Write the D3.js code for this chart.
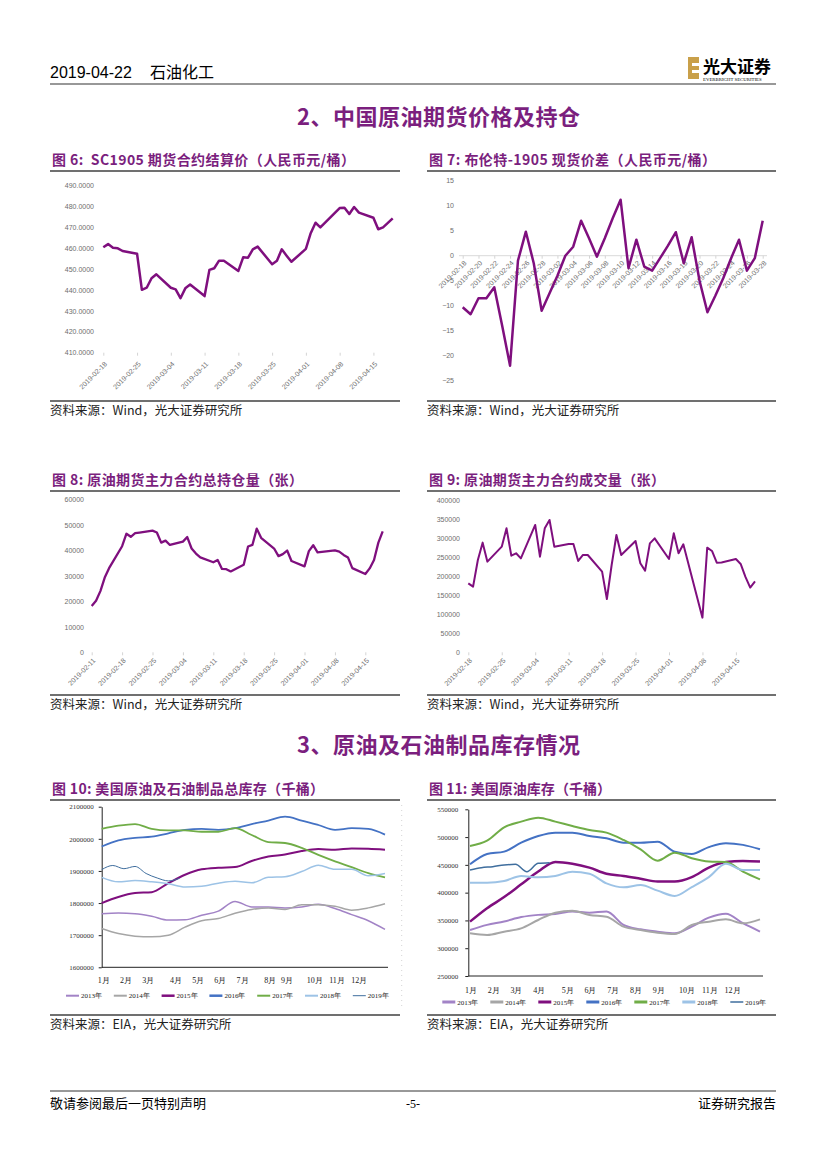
<!DOCTYPE html>
<html>
<head>
<meta charset="utf-8">
<script src="https://cdn.jsdelivr.net/npm/d3@7"></script>
<style>
  body { margin: 0; background: #fff; }
</style>
</head>
<body>
<script>
// ---------- data ----------
// trading days shared by fig 6 and fig 9
const tradeDates = ["2019-02-18","2019-02-19","2019-02-20","2019-02-21","2019-02-22",
  "2019-02-25","2019-02-26","2019-02-27","2019-02-28","2019-03-01",
  "2019-03-04","2019-03-05","2019-03-06","2019-03-07","2019-03-08",
  "2019-03-11","2019-03-12","2019-03-13","2019-03-14","2019-03-15",
  "2019-03-18","2019-03-19","2019-03-20","2019-03-21","2019-03-22",
  "2019-03-25","2019-03-26","2019-03-27","2019-03-28","2019-03-29",
  "2019-04-01","2019-04-02","2019-04-03","2019-04-04",
  "2019-04-08","2019-04-09","2019-04-10","2019-04-11","2019-04-12",
  "2019-04-15","2019-04-16","2019-04-17","2019-04-18","2019-04-19"];
const holdDates = ["2019-02-11","2019-02-12","2019-02-13","2019-02-14","2019-02-15"].concat(tradeDates);

// fig 6: SC1905 settlement price
const sc1905Price = [460.3,461.8,460.1,459.8,458.5, 457.2,440.0,441.0,445.5,447.4,
  441.0,440.2,436.0,440.7,442.5, 437.0,449.5,450.3,453.9,453.9,
  449.0,455.5,455.3,459.3,460.6, 452.2,453.9,459.3,456.3,453.4,
  459.5,467.0,472.0,469.8, 479.0,479.2,476.2,479.5,476.8,
  474.4,468.9,469.8,471.9,474.1];
const priceTicks = [410,420,430,440,450,460,470,480,490];
const priceDateTicks = ["2019-02-18","2019-02-25","2019-03-04","2019-03-11","2019-03-18",
  "2019-03-25","2019-04-01","2019-04-08","2019-04-15"];

// fig 7: Brent-1905 spread
const spreadLabels = ["2019-02-18","2019-02-20","2019-02-22","2019-02-24","2019-02-26",
  "2019-02-28","2019-03-02","2019-03-04","2019-03-06","2019-03-08","2019-03-10",
  "2019-03-12","2019-03-14","2019-03-16","2019-03-18","2019-03-20","2019-03-22",
  "2019-03-24","2019-03-26","2019-03-28"];
const spreadValues = [-10.3,-11.7,-8.5,-8.5,-6.3,-14,-22,-1,4.8,-1.5,-11,-7.5,-4,0,1.8,7,3.5,
  -0.2,3.5,7.5,11.2,-2.5,3.2,-2.2,-3,-0.5,2,4.7,-1.5,3.7,-5,-11.3,-8,-4.5,-0.5,3.2,-3,-0.5,7];
const spreadTicks = [15,10,5,0,-5,-10,-15,-20,-25];

// fig 8: open interest
const openInterest = [18170,20200,24000,29300,33000,
  41600,46500,45300,46700,46930, 47700,47000,43000,43800,42100,
  43400,45200,40700,38700,37200, 35300,36200,32700,32600,31700,
  34300,41500,42100,48500,44900, 40700,37700,38500,39900,35800,
  33700,39700,42000,39200, 40000,39500,38200,37200,33000,
  30700,32900,36200,43000,47400];
const oiTicks = [0,10000,20000,30000,40000,50000,60000];
const oiDateTicks = ["2019-02-11","2019-02-18","2019-02-25","2019-03-04","2019-03-11",
  "2019-03-18","2019-03-25","2019-04-01","2019-04-08","2019-04-15"];

// fig 9: volume
const volume = [181200,172400,242500,288000,238100, 277500,325600,253800,260000,246800,
  334400,251200,325600,347500,277500, 284500,284500,239800,255600,255600,
  211800,140000,229300,308100,255600, 292300,233700,214400,286200,299300,
  245100,312500,260000,283600, 91000,274800,266100,235400,236000,
  245000,232000,198000,170000,186000];
const volTicks = [0,50000,100000,150000,200000,250000,300000,350000,400000];

// fig 10 / 11: weekly US inventories (values in thousands of the axis unit)
const years = ["2013年","2014年","2015年","2016年","2017年","2018年","2019年"];
const yearColors = ["#a283c6","#a6a6a6","#7f0f7e","#4472c4","#70ad47","#9dc3e6","#3f6e9e"];
const months = ["1月","2月","3月","4月","5月","6月","7月","8月","9月","10月","11月","12月"];
const weeks = [0,3,6,9,12,15,18,21,24,27,30,33,36,39,42,45,48,51];
const weeks2019 = [0,2,4,6,8,10,12,14];

const total2013 = [1767,1769,1767,1759,1747,1748,1762,1775,1805,1788,1788,1785,1788,1796,1783,1764,1745,1718];
const total2014 = [1721,1705,1697,1695,1700,1725,1745,1752,1768,1780,1785,1780,1795,1795,1790,1778,1785,1798];
const total2015 = [1800,1819,1831,1834,1862,1888,1905,1910,1912,1931,1945,1951,1962,1968,1966,1970,1969,1966];
const total2016 = [1976,1995,2003,2007,2017,2028,2031,2028,2033,2046,2057,2069,2057,2043,2028,2033,2031,2013];
const total2017 = [2031,2041,2046,2031,2026,2026,2022,2022,2033,2012,1990,1987,1972,1950,1930,1912,1893,1880];
const total2018 = [1880,1866,1870,1866,1860,1850,1852,1862,1868,1863,1880,1882,1898,1918,1905,1905,1885,1892];
const total2019 = [1904,1917,1907,1914,1892,1878,1869,1877];
const totalTicks = [1600,1700,1800,1900,2000,2100];
const totalMonthWeeks = [0,4,8,13,17,21,25,30,33,38,42,46];

const crude2013 = [332.8,342,348,356,360,361.6,366,364,366,342,334,329.8,326.8,338.8,355,362,345,330];
const crude2014 = [326.8,323.8,329.8,335.8,350.8,364,367.6,359.8,356.8,338.8,332.8,328,325.6,341.8,347.8,352,344.8,352];
const crude2015 = [347.8,372,392,415,438,455,452,445,434,430,425,420,420,428,445,455,457,456];
const crude2016 = [451,469.6,473.8,490,502,508,508,502,497.8,490,490,491.8,473.8,469.6,482,489,486,478];
const crude2017 = [484,493.6,517.6,527.8,535,527.8,520,512.8,508,494.8,478,457.6,472,462,456,455,438,424];
const crude2018 = [418,418,421,430,427.6,430,437.8,434,416.8,409.6,413.8,403.6,394,410,428,452,440.8,440.8];
const crude2019 = [440.8,445,446.8,449.8,451,437.8,452.8,454];
const crudeTicks = [250,300,350,400,450,500,550];
const crudeMonthWeeks = [0,4,8,12,17,21,25,29,33,38,42,46];

// ---------- page ----------
const W = 827, H = 1169;
const CJK = "'Noto Sans CJK SC', 'Noto Sans', sans-serif";
const SANS = "'Liberation Sans', Arial, sans-serif";
const SERIF = "'Liberation Serif', 'Times New Roman', serif";
const PURPLE = "#7f0f7e";
const TITLE = "#7b1f7e";
const LABEL = "#6e6e6e";
const parseDay = d3.timeParse("%Y-%m-%d");
const fmtDay = d3.timeFormat("%Y-%m-%d");

let svg = d3.select("body").append("svg")
    .attr("width", W)
    .attr("height", H)
    .style("background", "#fff");

function text(x, y, str, size, opts = {}) {
    let t = svg.append("text")
        .attr("x", x).attr("y", y)
        .attr("font-family", opts.family || CJK)
        .attr("font-size", size)
        .attr("font-weight", opts.weight || "normal")
        .attr("fill", opts.fill || "#000")
        .attr("text-anchor", opts.anchor || "start")
        .attr("xml:space", "preserve")
        .text(str);
    if (opts.length) t.attr("textLength", opts.length).attr("lengthAdjust", "spacing");
    return t;
}
function hline(x1, x2, y, w, color) {
    svg.append("line").attr("x1", x1).attr("x2", x2).attr("y1", y).attr("y2", y)
        .attr("stroke", color || "#404040").attr("stroke-width", w);
}

// header
text(50, 78, "2019-04-22", 16, {family: SANS});
text(150, 78, "石油化工", 16);
hline(50, 776, 84, 1.2, "#333");

// logo
const logo = svg.append("g").attr("transform", "translate(688,57)");
logo.append("rect").attr("x", 0).attr("y", 0).attr("width", 11).attr("height", 22).attr("fill", "#c9a04a");
logo.append("rect").attr("x", 4).attr("y", 6).attr("width", 7).attr("height", 3).attr("fill", "#fff");
logo.append("rect").attr("x", 4).attr("y", 13).attr("width", 7).attr("height", 3).attr("fill", "#fff");
text(703, 73, "光大证券", 17, {weight: "bold"});
text(703, 81, "EVERBRIGHT SECURITIES", 4.8, {family: SERIF});

// section titles
text(297, 125, "2、中国原油期货价格及持仓", 22, {weight: "bold", fill: TITLE, length: 283});
text(297, 753, "3、原油及石油制品库存情况", 22, {weight: "bold", fill: TITLE, length: 283});

// figure titles, rules and sources
const leftX = 50, rightX = 427, leftEnd = 400, rightEnd = 776;
function frame(x, x2, titleY, title, titleLen, sepY, source) {
    text(x + 2, titleY, title, 14, {weight: "bold", fill: TITLE, length: titleLen});
    hline(x, x2, titleY + 6, 1.5);
    hline(x, x2, sepY, 1.5);
    text(x, sepY + 13.5, source, 12.5, {fill: "#222"});
}
frame(leftX, leftEnd, 165, "图 6:  SC1905 期货合约结算价（人民币元/桶）", 303, 401, "资料来源：Wind，光大证券研究所");
frame(rightX, rightEnd, 165, "图 7: 布伦特-1905 现货价差（人民币元/桶）", 287, 401, "资料来源：Wind，光大证券研究所");
frame(leftX, leftEnd, 485, "图 8: 原油期货主力合约总持仓量（张）", 251, 695, "资料来源：Wind，光大证券研究所");
frame(rightX, rightEnd, 485, "图 9: 原油期货主力合约成交量（张）", 236, 695, "资料来源：Wind，光大证券研究所");
frame(leftX, leftEnd, 794, "图 10: 美国原油及石油制品总库存（千桶）", 272, 1015, "资料来源：EIA，光大证券研究所");
frame(rightX, rightEnd, 794, "图 11: 美国原油库存（千桶）", 182, 1015, "资料来源：EIA，光大证券研究所");

// footer
hline(50, 776, 1091, 1, "#333");
text(50, 1108, "敬请参阅最后一页特别声明", 13);
text(413, 1108, "-5-", 12, {family: SERIF, anchor: "middle"});
text(776, 1108, "证券研究报告", 13, {anchor: "end"});

// ---------- daily charts (fig 6, 8, 9) ----------
function dailyChart(o) {
    const dates = o.dates.map(parseDay);
    const x = d3.scaleTime().domain(d3.extent(dates)).range([o.x0, o.x1]);
    const y = d3.scaleLinear().domain(o.yDomain).range([o.yBot, o.yTop]);

    let yAxis = svg.append("g")
        .attr("transform", `translate(${o.labelX},0)`)
        .call(d3.axisLeft(y).tickValues(o.yTicks).tickFormat(o.yFormat).tickSize(0).tickPadding(0));
    yAxis.select(".domain").remove();
    yAxis.selectAll("text").attr("font-family", SANS).attr("font-size", 7).attr("fill", LABEL);

    let xAxis = svg.append("g")
        .attr("transform", `translate(0,${o.yBot})`)
        .call(d3.axisBottom(x).tickValues(o.xTicks.map(parseDay)).tickFormat(fmtDay).tickSize(3));
    xAxis.select(".domain").remove();
    xAxis.selectAll("line").attr("stroke", "#d4d4d4");
    xAxis.selectAll("text")
        .attr("font-family", SANS).attr("font-size", 7).attr("fill", LABEL)
        .attr("text-anchor", "end").attr("y", 0).attr("dy", "0.35em")
        .attr("transform", `translate(2,${o.labelDrop}) rotate(-45)`);

    svg.append("path")
        .datum(o.values)
        .attr("fill", "none")
        .attr("stroke", PURPLE)
        .attr("stroke-width", o.lineWidth)
        .attr("stroke-linejoin", "round")
        .attr("d", d3.line().x((d, i) => x(dates[i])).y(d => y(d)));
}

dailyChart({dates: tradeDates, values: sc1905Price, x0: 103.3, x1: 392.7, yTop: 185, yBot: 352.7,
    yDomain: [410, 490], yTicks: priceTicks, yFormat: d3.format(".4f"), labelX: 94,
    xTicks: priceDateTicks, labelDrop: 10, lineWidth: 2.5});

dailyChart({dates: holdDates, values: openInterest, x0: 91.7, x1: 382.7, yTop: 499.3, yBot: 652.3,
    yDomain: [0, 60000], yTicks: oiTicks, yFormat: d3.format("d"), labelX: 84,
    xTicks: oiDateTicks, labelDrop: 7, lineWidth: 2.3});

dailyChart({dates: tradeDates, values: volume, x0: 468.3, x1: 755, yTop: 500, yBot: 652.3,
    yDomain: [0, 400000], yTicks: volTicks, yFormat: d3.format("d"), labelX: 460,
    xTicks: priceDateTicks, labelDrop: 7, lineWidth: 2});

// ---------- fig 7: spread ----------
{
    const x = d3.scaleLinear().domain([0, spreadValues.length - 1]).range([462.7, 762.7]);
    const y = d3.scaleLinear().domain([-25, 15]).range([380.7, 180.7]);

    let yAxis = svg.append("g")
        .attr("transform", "translate(454,0)")
        .call(d3.axisLeft(y).tickValues(spreadTicks).tickFormat(d3.format("d")).tickSize(0).tickPadding(0));
    yAxis.select(".domain").remove();
    yAxis.selectAll("text").attr("font-family", SANS).attr("font-size", 7).attr("fill", LABEL);

    svg.append("line").attr("x1", 459).attr("x2", 767).attr("y1", y(0)).attr("y2", y(0))
        .attr("stroke", "#d9d9d9").attr("stroke-width", 1);

    let xAxis = svg.append("g")
        .attr("transform", `translate(0,${y(0)})`)
        .call(d3.axisBottom(x).tickValues(d3.range(0, spreadValues.length, 2))
            .tickFormat(i => spreadLabels[i / 2]).tickSize(3));
    xAxis.select(".domain").remove();
    xAxis.selectAll("line").attr("stroke", "#d4d4d4");
    xAxis.selectAll("text")
        .attr("font-family", SANS).attr("font-size", 7).attr("fill", LABEL)
        .attr("text-anchor", "end").attr("y", 0).attr("dy", "0.35em")
        .attr("transform", "translate(2,6) rotate(-45)");

    svg.append("path")
        .datum(spreadValues)
        .attr("fill", "none")
        .attr("stroke", PURPLE)
        .attr("stroke-width", 2.5)
        .attr("stroke-linejoin", "round")
        .attr("d", d3.line().x((d, i) => x(i)).y(d => y(d)));
}

// ---------- weekly inventory charts (fig 10, 11) ----------
function weeklyChart(o) {
    const x = d3.scaleLinear().domain([0, 51]).range([o.x0, o.x1]);
    const y = d3.scaleLinear().domain(o.yDomain).range([o.yBot, o.yTop]);

    let yAxis = svg.append("g")
        .attr("transform", `translate(${o.axisX},0)`)
        .call(d3.axisLeft(y).tickValues(o.yTicks).tickFormat(d => d3.format("d")(d * 1000))
            .tickSize(3).tickSizeOuter(0).tickPadding(o.pad));
    yAxis.select(".domain").attr("stroke", "#222");
    yAxis.selectAll("line").attr("stroke", "#222");
    yAxis.selectAll("text").attr("font-family", SERIF).attr("font-size", 7).attr("fill", "#333");

    svg.append("line").attr("x1", o.axisX).attr("x2", o.axisEnd).attr("y1", o.yBot).attr("y2", o.yBot)
        .attr("stroke", "#222").attr("stroke-width", 1);

    svg.append("g").selectAll("text")
        .data(o.monthWeeks)
        .enter().append("text")
        .attr("x", (d, i) => x(d) + o.monthShift)
        .attr("y", o.monthY)
        .attr("text-anchor", "middle")
        .attr("font-family", SERIF)
        .attr("font-size", 8)
        .attr("fill", "#222")
        .text((d, i) => months[i]);

    const line = d3.line().curve(d3.curveMonotoneX);
    o.series.forEach((s, k) => {
        const wk = k === 6 ? weeks2019 : weeks;
        svg.append("path")
            .datum(s)
            .attr("fill", "none")
            .attr("stroke", yearColors[k])
            .attr("stroke-width", o.widths[k])
            .attr("stroke-linejoin", "round")
            .attr("d", line(s.map((v, i) => [x(wk[i]), y(v)])));
    });

    const legend = svg.append("g").selectAll("g")
        .data(years)
        .enter().append("g")
        .attr("transform", (d, i) => `translate(${o.legendX + i * o.legendStep},${o.legendY})`);
    legend.append("line")
        .attr("x1", 0).attr("x2", 13).attr("y1", 0).attr("y2", 0)
        .attr("stroke", (d, i) => yearColors[i])
        .attr("stroke-width", (d, i) => o.legendWidths[i]);
    legend.append("text")
        .attr("x", 15).attr("y", 2.5)
        .attr("font-family", SERIF).attr("font-size", 7).attr("fill", "#222")
        .text(d => d);
}

weeklyChart({x0: 101.7, x1: 385, axisX: 101.7, axisEnd: 388, yTop: 806.7, yBot: 967.3,
    yDomain: [1600, 2100], yTicks: totalTicks, pad: 5,
    monthWeeks: totalMonthWeeks, monthShift: 2, monthY: 983,
    series: [total2013, total2014, total2015, total2016, total2017, total2018, total2019],
    widths: [1.5, 1.5, 2, 1.8, 1.8, 1.5, 1],
    legendX: 66, legendStep: 47.8, legendY: 995.7, legendWidths: [2, 2, 2.5, 2.5, 2, 2, 1]});

weeklyChart({x0: 470, x1: 760, axisX: 468.3, axisEnd: 763, yTop: 809.3, yBot: 976,
    yDomain: [250, 550], yTicks: crudeTicks, pad: 7,
    monthWeeks: crudeMonthWeeks, monthShift: 1, monthY: 993,
    series: [crude2013, crude2014, crude2015, crude2016, crude2017, crude2018, crude2019],
    widths: [2, 2, 2.5, 2, 2, 2, 1.5],
    legendX: 442.3, legendStep: 48, legendY: 1002, legendWidths: [3, 3, 3, 3, 3, 3, 1.5]});

// faint dotted edge of fig 10 plot area
svg.append("line").attr("x1", 401.7).attr("x2", 401.7).attr("y1", 805).attr("y2", 1008)
    .attr("stroke", "#c8c8c8").attr("stroke-width", 0.8).attr("stroke-dasharray", "1,4");
</script>
</body>
</html>
